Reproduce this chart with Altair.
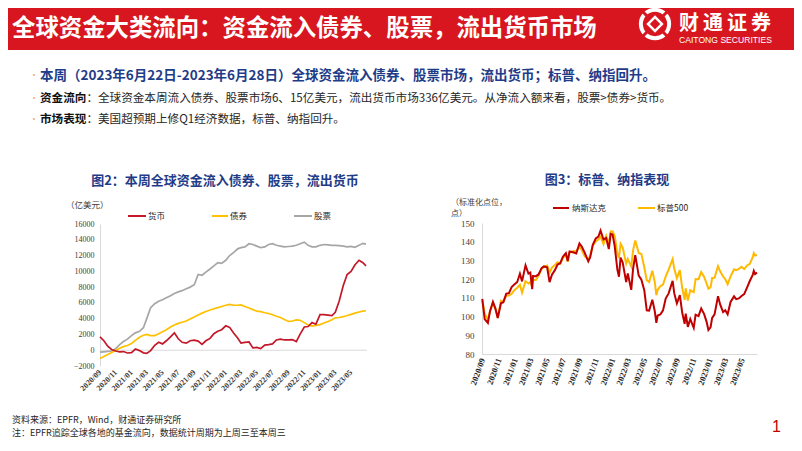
import altair as alt
import pandas as pd

# ---------------- data: chart 2 (cumulative fund flows, 亿美元) ----------------
dates2 = [
    "2020-09-01", "2020-09-16", "2020-10-01", "2020-10-16", "2020-11-01", "2020-11-16",
    "2020-12-01", "2020-12-16", "2021-01-01", "2021-01-16", "2021-02-01", "2021-02-16",
    "2021-03-01", "2021-03-16", "2021-04-01", "2021-04-16", "2021-05-01", "2021-05-16",
    "2021-06-01", "2021-06-16", "2021-07-01", "2021-07-16", "2021-08-01", "2021-08-16",
    "2021-09-01", "2021-09-16", "2021-10-01", "2021-10-16", "2021-11-01", "2021-11-16",
    "2021-12-01", "2021-12-16", "2022-01-01", "2022-01-16", "2022-02-01", "2022-02-16",
    "2022-03-01", "2022-03-16", "2022-04-01", "2022-04-16", "2022-05-01", "2022-05-16",
    "2022-06-01", "2022-06-16", "2022-07-01", "2022-07-16", "2022-08-01", "2022-08-16",
    "2022-09-01", "2022-09-16", "2022-10-01", "2022-10-16", "2022-11-01", "2022-11-16",
    "2022-12-01", "2022-12-16", "2023-01-01", "2023-01-16", "2023-02-01", "2023-02-16",
    "2023-03-01", "2023-03-16", "2023-04-01", "2023-04-16", "2023-05-01", "2023-05-16",
    "2023-06-01", "2023-06-16", "2023-06-28",
]
money2 = [
    1700, 1200, 500, 100, -100, -200, -170, -350, -300, 150,
    -50, -330, -400, -50, 630, 1000, 800, 1200, 1700, 2200,
    1450, 1000, 900, 1200, 1270, 1150, 750, 1200, 1500, 2100,
    2400, 2600, 3100, 2900, 2150, 1550, 900, 1000, 1050, 300,
    350, 200, 650, 700, 800, 1300, 1400, 1300, 1300, 1350,
    1100, 2050, 2950, 3000, 3500, 3300, 4500, 4500, 4450, 4400,
    4800, 6200, 8200, 9600, 10000, 10800, 11400, 11100, 10700,
]
bond2 = [
    -1050, -800, -550, -300, 0, 250, 450, 600, 850, 1250,
    1650, 1900, 2000, 1850, 1850, 2100, 2350, 2600, 2950, 3200,
    3400, 3550, 3700, 3950, 4200, 4450, 4700, 4900, 5100, 5250,
    5400, 5550, 5700, 5800, 5700, 5700, 5750, 5550, 5350, 5150,
    4950, 4900, 4750, 4650, 4500, 4300, 4150, 3900, 3650, 3700,
    3850, 3800, 3500, 3200, 3050, 3150, 3250, 3450, 3650, 3850,
    4100, 4150, 4250, 4400, 4550, 4700, 4850, 4950, 5000,
]
equity2 = [
    -250, -200, -150, -100, 200, 700, 1100, 1400, 1850, 2200,
    2400, 2850, 4000, 5400, 5900, 6200, 6400, 6650, 6900, 7200,
    7400, 7550, 7800, 8000, 8300, 9600, 9500, 9900, 10300, 10700,
    11100, 11000, 11400, 12000, 12400, 12850, 13000, 13100, 13500, 13400,
    13200, 13000, 13100, 13400, 13500, 13300, 13200, 13100, 13150, 13200,
    13300, 13500, 13700, 13300, 13100, 13100, 13300, 13400, 13350, 13300,
    13300, 13250, 13200, 13100, 13150, 13050, 13300, 13550, 13450,
]
series2 = ["货币", "债券", "股票"]
yticks2 = [-2000, 0, 2000, 4000, 6000, 8000, 10000, 12000, 14000, 16000]

# ---------------- data: chart 3 (normalized index level) ----------------
dates3 = [
    "2020-09-02", "2020-09-11", "2020-09-23", "2020-10-01", "2020-10-12", "2020-10-21",
    "2020-10-30", "2020-11-11", "2020-11-20", "2020-12-01", "2020-12-11", "2020-12-21",
    "2020-12-31", "2021-01-11", "2021-01-21", "2021-01-29", "2021-02-11", "2021-02-22",
    "2021-03-01", "2021-03-08", "2021-03-11", "2021-03-22", "2021-04-01", "2021-04-12",
    "2021-04-21", "2021-05-03", "2021-05-12", "2021-05-21", "2021-06-01", "2021-06-11",
    "2021-06-21", "2021-07-01", "2021-07-12", "2021-07-19", "2021-07-26", "2021-08-11",
    "2021-08-20", "2021-09-01", "2021-09-10", "2021-09-21", "2021-10-04", "2021-10-11",
    "2021-10-21", "2021-11-01", "2021-11-11", "2021-11-19", "2021-11-30", "2021-12-10",
    "2021-12-20", "2021-12-27", "2022-01-03", "2022-01-11", "2022-01-21", "2022-01-27",
    "2022-02-02", "2022-02-10", "2022-02-23", "2022-03-01", "2022-03-14", "2022-03-21",
    "2022-03-29", "2022-04-11", "2022-04-21", "2022-05-02", "2022-05-11", "2022-05-20",
    "2022-06-01", "2022-06-10", "2022-06-16", "2022-06-21", "2022-07-01", "2022-07-11",
    "2022-07-21", "2022-08-01", "2022-08-16", "2022-08-22", "2022-09-01", "2022-09-12",
    "2022-09-21", "2022-09-30", "2022-10-04", "2022-10-12", "2022-10-21", "2022-11-03",
    "2022-11-10", "2022-11-21", "2022-12-01", "2022-12-12", "2022-12-21", "2022-12-28",
    "2023-01-05", "2023-01-11", "2023-01-20", "2023-02-02", "2023-02-10", "2023-02-21",
    "2023-03-01", "2023-03-10", "2023-03-21", "2023-04-03", "2023-04-11", "2023-04-21",
    "2023-05-01", "2023-05-11", "2023-05-22", "2023-06-01", "2023-06-12", "2023-06-16",
    "2023-06-21", "2023-06-28",
]
nasdaq3 = [
    109.5, 98.6, 96.6, 102.9, 107.9, 104.4, 99.2, 107.1, 107.7, 112.3,
    112.5, 115.8, 117.1, 118.5, 122.9, 118.8, 127.4, 123.0, 123.5, 114.6,
    121.7, 121.6, 122.5, 125.9, 126.8, 126.3, 118.4, 122.4, 124.8, 127.8,
    128.5, 132.0, 133.9, 129.7, 134.8, 134.2, 133.7, 139.1, 137.3, 134.0,
    129.5, 131.6, 138.3, 141.7, 142.7, 145.9, 141.2, 142.0, 136.1, 144.2,
    143.9, 137.7, 125.1, 121.3, 131.5, 128.9, 118.5, 123.0, 114.3, 125.7,
    132.8, 121.9, 119.7, 113.9, 103.3, 103.2, 109.0, 103.0, 96.7, 100.6,
    101.1, 103.3, 109.6, 112.4, 119.1, 112.5, 107.1, 111.5, 102.0, 96.1,
    101.6, 94.5, 98.7, 94.0, 101.0, 100.2, 104.3, 101.3, 97.3, 92.8,
    94.2, 99.3, 101.2, 110.9, 106.5, 102.4, 103.4, 101.2, 107.8, 110.8,
    109.3, 109.7, 111.0, 112.0, 115.6, 119.0, 122.3, 124.4, 122.7, 123.5,
]
spx3 = [
    108.7, 101.5, 98.3, 102.7, 107.3, 104.3, 99.3, 108.5, 108.0, 111.2,
    111.2, 112.2, 114.1, 115.4, 117.0, 112.8, 118.9, 117.7, 118.5, 116.0,
    119.6, 119.6, 122.1, 125.4, 126.7, 127.3, 123.4, 126.2, 127.6, 129.0,
    128.3, 131.2, 133.1, 129.3, 134.3, 135.0, 134.9, 137.4, 135.4, 132.2,
    130.6, 132.4, 138.1, 140.1, 141.2, 142.7, 138.7, 143.1, 138.7, 145.5,
    145.6, 143.1, 133.6, 131.4, 138.9, 136.8, 128.3, 130.8, 126.7, 135.5,
    140.7, 134.0, 133.4, 126.2, 119.5, 118.5, 124.5, 118.5, 111.4, 114.3,
    116.2, 117.1, 121.4, 125.1, 130.7, 125.7, 120.5, 124.8, 115.1, 108.9,
    115.1, 108.6, 114.0, 113.0, 120.1, 120.0, 123.8, 121.2, 117.8, 114.9,
    115.6, 120.6, 120.7, 126.9, 124.2, 121.4, 120.0, 117.3, 121.5, 125.3,
    124.8, 125.5, 126.6, 125.4, 127.3, 128.2, 131.7, 133.9, 132.6, 132.9,
]
series3 = ["纳斯达克", "标普500"]
yticks3 = [80, 90, 100, 110, 120, 130, 140, 150]

tick_months = [
    "2020-09", "2020-11", "2021-01", "2021-03", "2021-05", "2021-07", "2021-09",
    "2021-11", "2022-01", "2022-03", "2022-05", "2022-07", "2022-09", "2022-11",
    "2023-01", "2023-03", "2023-05",
]

# ---------------- texts ----------------
header_title = "全球资金大类流向：资金流入债券、股票，流出货币市场"
logo_chars = ["财", "通", "证", "券"]
logo_en = "CAITONG SECURITIES"
bullet1 = "本周（2023年6月22日-2023年6月28日）全球资金流入债券、股票市场，流出货币；标普、纳指回升。"
bullet2_head = "资金流向"
bullet2_body = "：全球资金本周流入债券、股票市场6、15亿美元，流出货币市场336亿美元。从净流入额来看，股票>债券>货币。"
bullet3_head = "市场表现"
bullet3_body = "：美国超预期上修Q1经济数据，标普、纳指回升。"
title2 = "图2：本周全球资金流入债券、股票，流出货币"
title3 = "图3：标普、纳指表现"
unit2 = "（亿美元）"
unit3a = "（标准化点位，"
unit3b = "点）"
source1 = "资料来源：EPFR，Wind，财通证券研究所"
source2 = "注：EPFR追踪全球各地的基金流向，数据统计周期为上周三至本周三"

# ---------------- layout helpers (reference pixel -> chart pixel) ----------------
W, H = 786, 435
def X(v):
    return v - 8
def Y(v):
    return v - 8

CJK = "Noto Sans CJK SC"
SERIF = "Liberation Serif"
BLUE = "#1f3c88"
HEADRED = "#d7161f"
RED2, YEL2, GRY2 = "#c3182a", "#ffc000", "#a6a6a6"
RED3, YEL3 = "#c00000", "#ffb900"

dummy = pd.DataFrame({"k": [0]})


def label(text, x, y, size, color="#262626", weight="normal", align="left", font=CJK):
    return alt.Chart(dummy).mark_text(
        text=text, font=font, fontSize=size, color=color, fontWeight=weight,
        align=align, baseline="middle",
    ).encode(x=alt.value(X(x)), y=alt.value(Y(y)))


def seg(x1, x2, y, color, w=2.0):
    return alt.Chart(dummy).mark_rule(color=color, strokeWidth=w).encode(
        x=alt.value(X(x1)), x2=alt.value(X(x2)), y=alt.value(Y(y)))


def diag(x1, y1, x2, y2, color, w):
    return alt.Chart(dummy).mark_rule(color=color, strokeWidth=w).encode(
        x=alt.value(X(x1)), y=alt.value(Y(y1)), x2=alt.value(X(x2)), y2=alt.value(Y(y2)))


def sym(x, y, shape, size, color, filled=True, sw=0.0):
    return alt.Chart(dummy).mark_point(
        shape=shape, size=size, color=color, filled=filled, strokeWidth=sw, opacity=1,
    ).encode(x=alt.value(X(x)), y=alt.value(Y(y)))


def dt(s):
    parts = [int(p) for p in s.split("-")]
    return alt.DateTime(year=parts[0], month=parts[1], date=parts[2] if len(parts) > 2 else 1)


tick_dt = [dt(m) for m in tick_months]

# ---------------- decorations ----------------
LX, LY = 655, 24  # logo centre
deco = [
    alt.Chart(dummy).mark_rect(color=HEADRED).encode(
        x=alt.value(0), x2=alt.value(W), y=alt.value(0), y2=alt.value(Y(50))),
    label(header_title, 12, 29, 23.4, color="white", weight="bold"),
    # logo
    sym(LX, LY, "circle", 800, "white", filled=False, sw=4),
    diag(LX - 17, LY - 17, LX + 17, LY + 17, HEADRED, 3),
    diag(LX - 17, LY + 17, LX + 17, LY - 17, HEADRED, 3),
    sym(LX, LY, "diamond", 300, "white"),
    sym(LX, LY, "diamond", 110, HEADRED),
]
deco += [label(ch, 679 + 24 * i, 24, 20, color="white", weight="bold") for i, ch in enumerate(logo_chars)]
deco += [
    label(logo_en, 679, 40, 8.6, color="white", font="Liberation Sans"),
    # bullets
    label("•", 29, 76, 10, color="#efb38a"),
    label("•", 29, 99, 10, color="#efb38a"),
    label("•", 29, 120, 10, color="#efb38a"),
    label(bullet1, 40, 76, 13.5, color=BLUE, weight="bold"),
    label(bullet2_head, 40, 99, 11.6, color="#111111", weight="bold"),
    label(bullet2_body, 40 + 4 * 11.6, 99, 11.6, color="#262626"),
    label(bullet3_head, 40, 120, 11.6, color="#111111", weight="bold"),
    label(bullet3_body, 40 + 4 * 11.6, 120, 11.6, color="#262626"),
    # chart titles
    label(title2, 225, 181, 13, color=BLUE, weight="bold", align="center"),
    label(title3, 607, 180, 13, color=BLUE, weight="bold", align="center"),
    # chart 2 unit + legend
    label(unit2, 66, 205, 8.5, color="#404040"),
    seg(128, 146, 216, RED2), label(series2[0], 148, 216, 8.5, color="#262626"),
    seg(212, 228, 216, YEL2), label(series2[1], 230, 216, 8.5, color="#262626"),
    seg(294, 312, 216, GRY2), label(series2[2], 314, 216, 8.5, color="#262626"),
    # chart 3 unit + legend
    label(unit3a, 451, 203, 8, color="#404040"),
    label(unit3b, 451, 214, 8, color="#404040"),
    seg(553, 569, 208, RED3), label(series3[0], 572, 208, 8.5, color="#262626"),
    seg(638, 655, 208, YEL3), label(series3[1], 657, 208, 8.5, color="#262626"),
    # footer
    label(source1, 12, 420, 9, color="#262626"),
    label(source2, 12, 433, 9, color="#262626"),
    label("1", 772, 427, 16, color="#c00000", font="Liberation Sans"),
]

# ---------------- chart 2 ----------------
n2 = len(dates2)
df2 = pd.DataFrame({
    "date": [d + "T00:00:00" for d in dates2] * 3,
    "value": money2 + bond2 + equity2,
    "series": [series2[0]] * n2 + [series2[1]] * n2 + [series2[2]] * n2,
})
zero2 = pd.DataFrame({"value": [0]})

x2scale = alt.Scale(domain=[dt("2020-09-01"), dt("2023-06-28")], range=[X(100), X(366)], nice=False)
y2scale = alt.Scale(domain=[-2000, 16000], range=[Y(366), Y(224)], nice=False, zero=False)
x2axis = alt.Axis(
    values=tick_dt, format="%Y/%m", orient="bottom", offset=Y(366) - H,
    labelAngle=315, labelAlign="right", labelBaseline="middle",
    labelFont=SERIF, labelFontSize=8, labelFontWeight="bold", labelColor="#404040",
    labelPadding=5, labelOverlap=False, labelFlush=False,
    domain=False, ticks=False, grid=False, title=None,
)
y2axis = alt.Axis(
    values=yticks2, format="d", orient="left", offset=-X(100),
    domain=True, domainColor="#d9d9d9", ticks=False, grid=False,
    labelFont=SERIF, labelFontSize=8, labelColor="#404040", labelPadding=6, title=None,
)

zero_rule = alt.Chart(zero2).mark_rule(color="#d9d9d9", strokeWidth=1).encode(
    y=alt.Y("value:Q", scale=y2scale, axis=y2axis),
    x=alt.value(X(100)), x2=alt.value(X(367)),
)


def line2(name, color):
    return alt.Chart(df2).transform_filter(alt.datum.series == name).mark_line(
        color=color, strokeWidth=1.7).encode(
        x=alt.X("date:T", scale=x2scale, axis=x2axis),
        y=alt.Y("value:Q", scale=y2scale, axis=y2axis),
    )


chart2 = alt.layer(zero_rule, line2(series2[2], GRY2), line2(series2[1], YEL2), line2(series2[0], RED2))

# ---------------- chart 3 ----------------
n3 = len(dates3)
df3 = pd.DataFrame({
    "date": [d + "T00:00:00" for d in dates3] * 2,
    "value": nasdaq3 + spx3,
    "series": [series3[0]] * n3 + [series3[1]] * n3,
})
x3scale = alt.Scale(domain=[dt("2020-09-01"), dt("2023-06-28")], range=[X(482), X(757)], nice=False)
y3scale = alt.Scale(domain=[80, 150], range=[Y(354), Y(223)], nice=False, zero=False)
x3axis = alt.Axis(
    values=tick_dt, format="%Y/%m", orient="bottom", offset=Y(354) - H,
    labelAngle=290, labelAlign="right", labelBaseline="middle",
    labelFont=SERIF, labelFontSize=8.5, labelFontWeight="bold", labelColor="#262626",
    labelPadding=4, labelOverlap=False, labelFlush=False,
    domain=True, domainColor="#d9d9d9", ticks=False, grid=False, title=None,
)
y3axis = alt.Axis(
    values=yticks3, format="d", orient="left", offset=-X(482),
    domain=True, domainColor="#d9d9d9", ticks=False, grid=False,
    labelFont=SERIF, labelFontSize=9, labelColor="#404040", labelPadding=8, title=None,
)


def line3(name, color):
    return alt.Chart(df3).transform_filter(alt.datum.series == name).mark_line(
        color=color, strokeWidth=2).encode(
        x=alt.X("date:T", scale=x3scale, axis=x3axis),
        y=alt.Y("value:Q", scale=y3scale, axis=y3axis),
    )


chart3 = alt.layer(line3(series3[1], YEL3), line3(series3[0], RED3))

chart = alt.layer(*deco, chart2, chart3).resolve_scale(
    x="independent", y="independent"
).properties(
    width=W, height=H, padding=0, background="white",
    autosize=alt.AutoSizeParams(type="none"),
).configure_view(stroke="transparent")

chart.save("out.html", embed_options={"renderer": "svg", "actions": False})
